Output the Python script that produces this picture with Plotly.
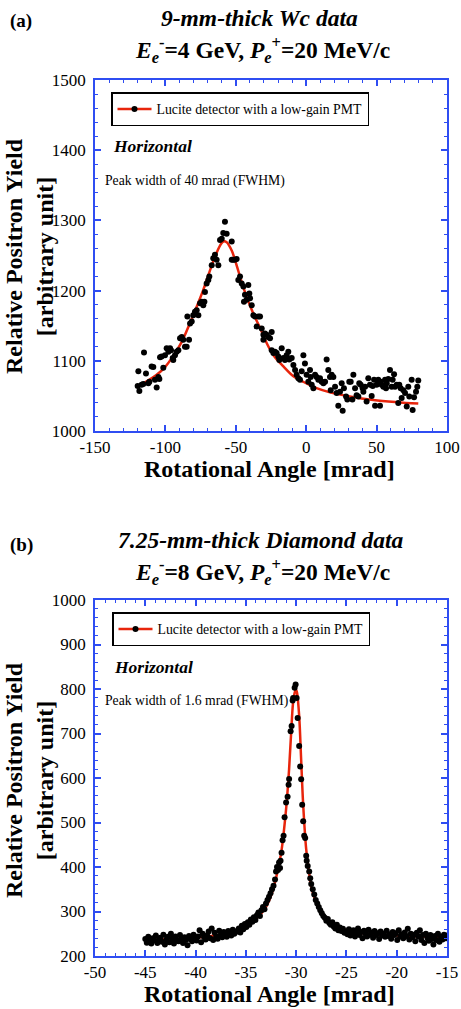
import plotly.graph_objects as go

# ---------------- (a) 9-mm-thick Wc data ----------------
a_x = [-119.7, -118.5, -119.2, -116.9, -115.7, -115.2, -113.8, -112.1, -111.4, -109.8,
       -108.6, -107.4, -106.2, -105.0, -104.3, -103.8, -102.7, -101.5, -100.3, -99.1,
       -97.9, -96.7, -96.0, -94.8, -94.4, -93.2, -92.0, -90.8, -89.6, -88.4,
       -87.3, -86.1, -84.9, -84.4, -83.2, -82.5, -81.3, -80.2, -79.0, -77.8,
       -76.6, -75.4, -74.2, -73.1, -72.3, -71.9, -70.7, -69.5, -68.8, -67.1,
       -66.0, -64.8, -63.6, -62.4, -61.2, -60.0, -58.9, -57.7, -56.5, -52.9,
       -52.9, -51.8, -50.6, -49.4, -48.2, -47.0, -45.8, -44.6, -43.5, -44.2,
       -42.3, -41.1, -40.4, -39.9, -38.7, -37.5, -36.4, -35.2, -34.0, -32.8,
       -31.6, -30.4, -30.4, -29.3, -28.1, -26.9, -25.7, -24.5, -24.5, -23.3,
       -22.2, -21.0, -19.8, -19.1, -17.4, -16.2, -15.1, -13.9, -12.7, -12.0,
       -10.3, -9.1, -7.9, -6.8, -5.6, -4.4, -3.2, -2.0, -0.9, 0.3,
       1.5, 2.7, 3.2, 3.9, 5.1, 6.3, 7.4, 8.6, 9.8, 11.0,
       12.2, 13.4, 14.5, 15.7, 16.9, 17.4, 18.1, 19.3, 20.5, 21.6,
       22.8, 24.0, 25.2, 25.9, 26.8, 28.3, 29.2, 30.6, 31.6, 32.8,
       33.5, 34.7, 35.8, 37.0, 37.7, 38.7, 40.1, 40.6, 41.8, 42.9,
       44.1, 45.3, 46.5, 47.2, 48.2, 48.9, 50.0, 51.2, 52.4, 52.9,
       53.6, 54.8, 56.0, 56.7, 57.2, 58.3, 59.5, 60.7, 61.4, 62.4,
       63.1, 64.3, 65.4, 66.1, 67.1, 67.8, 69.0, 70.2, 71.4, 72.5,
       73.2, 74.9, 75.6, 76.6, 78.0, 78.9, 79.6]
a_y = [1064, 1057, 1085, 1066, 1067, 1112, 1082, 1068, 1070, 1092,
       1091, 1073, 1062, 1077, 1074, 1105, 1106, 1090, 1108, 1118,
       1113, 1118, 1115, 1104, 1101, 1108, 1113, 1115, 1132, 1134,
       1130, 1120, 1120, 1163, 1130, 1153, 1156, 1165, 1170, 1172,
       1165, 1182, 1184, 1179, 1184, 1198, 1210, 1215, 1220, 1236,
       1246, 1251, 1244, 1236, 1272, 1274, 1282, 1298, 1281, 1270,
       1244, 1244, 1244, 1245, 1215, 1220, 1210, 1206, 1194, 1184,
       1187, 1208, 1196, 1189, 1179, 1165, 1163, 1149, 1163, 1163,
       1146, 1137, 1130, 1139, 1137, 1134, 1132, 1141, 1115, 1111,
       1113, 1111, 1106, 1101, 1118, 1104, 1101, 1108, 1113, 1102,
       1104, 1094, 1087, 1080, 1075, 1073, 1085, 1108, 1096, 1080,
       1070, 1087, 1077, 1066, 1061, 1080, 1077, 1073, 1075, 1070,
       1068, 1070, 1102, 1087, 1077, 1058, 1080, 1077, 1063, 1054,
       1036, 1056, 1068, 1029, 1061, 1049, 1045, 1070, 1070, 1045,
       1080, 1061, 1051, 1049, 1068, 1066, 1061, 1056, 1063, 1042,
       1075, 1066, 1050, 1064, 1073, 1036, 1066, 1073, 1036, 1070,
       1066, 1063, 1073, 1061, 1068, 1074, 1087, 1063, 1073, 1081,
       1063, 1066, 1040, 1066, 1061, 1047, 1058, 1054, 1035, 1063,
       1049, 1073, 1030, 1048, 1056, 1063, 1072]
a_fit_x = [-119.7, -106.2, -100.3, -94.4, -88.4, -82.5, -77.8, -73.1, -69.5, -64.8,
           -61.2, -58.9, -56.5, -52.9, -49.4, -45.8, -42.3, -37.5, -32.8, -28.0,
           -23.3, -16.2, -9.1, -2.0, 7.4, 16.9, 31.1, 47.7, 64.3, 79.6]
a_fit_y = [1063, 1080, 1091, 1107, 1127, 1154, 1177, 1201, 1222, 1248,
           1264, 1270, 1269, 1257, 1236, 1212, 1191, 1167, 1147, 1125,
           1108, 1092, 1078, 1070, 1061, 1055, 1049, 1044, 1041, 1039]
a_xticks = [-150, -100, -50, 0, 50, 100]
a_xtick_text = ["-150", "-100", "-50", "0", "50", "100"]
a_yticks = [1000, 1100, 1200, 1300, 1400, 1500]

# ---------------- (b) 7.25-mm-thick Diamond data ----------------
b_x = [-45.0, -44.85, -44.7, -44.55, -44.4, -44.25, -44.1, -43.95, -43.8, -43.65,
       -43.5, -43.35, -43.2, -43.05, -42.9, -42.75, -42.6, -42.45, -42.3, -42.15,
       -42.0, -41.85, -41.7, -41.55, -41.4, -41.25, -41.1, -40.95, -40.8, -40.65,
       -40.5, -40.35, -40.2, -40.05, -39.9, -39.75, -39.6, -39.45, -39.3, -39.15,
       -39.0, -38.85, -38.7, -38.55, -38.4, -38.25, -38.1, -37.95, -37.8, -37.65,
       -37.5, -37.35, -37.2, -37.05, -36.9, -36.75, -36.6, -36.45, -36.3, -36.15,
       -36.0, -35.85, -35.7, -35.55, -35.4, -35.25, -35.1, -34.95, -34.8, -34.65,
       -34.5, -34.35, -34.2, -34.05, -33.9, -33.75, -33.6, -33.45, -33.3, -33.15,
       -33.0, -32.85, -32.7, -32.55, -32.4, -32.25, -32.1, -32.0, -31.9, -31.8,
       -31.7, -31.6, -31.55, -31.45, -31.35, -31.25, -31.15, -31.0, -30.85, -30.75,
       -30.7, -30.55, -30.45, -30.35, -30.3, -30.15, -30.05, -29.95, -29.85, -29.7,
       -29.6, -29.5, -29.4, -29.3, -29.2, -29.1, -29.0, -28.95, -28.85, -28.7,
       -28.6, -28.5, -28.35, -28.2, -28.05, -27.9, -27.75, -27.6, -27.45, -27.3,
       -27.15, -27.0, -26.85, -26.7, -26.55, -26.4, -26.25, -26.1, -25.95, -25.8,
       -25.65, -25.5, -25.35, -25.2, -25.05, -24.9, -24.75, -24.6, -24.45, -24.3,
       -24.15, -24.0, -23.85, -23.7, -23.55, -23.4, -23.25, -23.1, -22.95, -22.8,
       -22.65, -22.5, -22.35, -22.2, -22.05, -21.9, -21.75, -21.6, -21.45, -21.3,
       -21.15, -21.0, -20.85, -20.7, -20.55, -20.4, -20.25, -20.1, -19.95, -19.8,
       -19.65, -19.5, -19.35, -19.2, -19.05, -18.9, -18.75, -18.6, -18.45, -18.3,
       -18.15, -18.0, -17.85, -17.7, -17.55, -17.4, -17.25, -17.1, -16.95, -16.8,
       -16.65, -16.5, -16.35, -16.2, -16.05, -15.9, -15.75, -15.6, -15.45, -15.3,
       -15.15, -15.0]
b_y = [238, 230, 243, 233, 228, 240, 235, 246, 229, 236,
       241, 232, 248, 226, 237, 243, 231, 250, 239, 228,
       244, 236, 233, 247, 240, 229, 242, 236, 224, 245,
       238, 233, 248, 241, 235, 244, 258, 231, 250, 242,
       237, 246, 255, 240, 262, 236, 252, 244, 239, 257,
       247, 242, 254, 249, 243, 256, 251, 246, 259, 250,
       254, 256, 262, 253, 268, 260, 272, 265, 276, 270,
       282, 277, 287, 281, 292, 298, 290, 303, 310, 305,
       318, 326, 333, 341, 350, 358, 372, 390, 400, 393,
       410, 398, 414, 432, 460, 470, 512, 545, 558, 585,
       598, 705, 717, 774, 780, 803, 810, 780, 735, 672,
       626, 597, 540, 503, 470, 465, 425, 414, 402, 390,
       375, 362, 350, 338, 326, 318, 310, 303, 296, 290,
       286, 279, 283, 274, 270, 276, 266, 262, 270, 258,
       264, 256, 261, 252, 255, 249, 260, 246, 253, 258,
       244, 251, 262, 247, 254, 240, 257, 250, 244, 259,
       248, 253, 241, 256, 247, 251, 238, 255, 246, 250,
       243, 257, 245, 249, 239, 254, 247, 251, 236, 258,
       244, 249, 240, 253, 245, 261, 237, 250, 242, 248,
       233, 252, 244, 258, 236, 247, 229, 250, 241, 234,
       247, 238, 226, 245, 236, 250, 232, 243, 237, 248,
       240, 246]
b_fit_x = [-45.0, -40.0, -37.0, -35.0, -34.0, -33.0, -32.5, -32.0, -31.5, -31.0,
           -30.7, -30.5, -30.3, -30.1, -30.0, -29.9, -29.7, -29.5, -29.3, -29.0,
           -28.7, -28.5, -28.0, -27.5, -27.0, -26.0, -25.0, -23.0, -20.0, -17.0, -15.0]
b_fit_y = [236, 241, 250, 265, 283, 310, 335, 375, 430, 530,
           620, 700, 770, 795, 798, 790, 740, 640, 540, 440,
           385, 355, 320, 300, 285, 268, 258, 250, 246, 243, 242]
b_xticks = [-50, -45, -40, -35, -30, -25, -20, -15]
b_xtick_text = ["-50", "-45", "-40", "-35", "-30", "-25", "-20", "-15"]
b_yticks = [200, 300, 400, 500, 600, 700, 800, 900, 1000]

legend_label = "Lucite detector with a low-gain PMT"

FONT = "Liberation Serif"
BLUE = "#2f4df2"
RED = "#e8250c"
W, H = 461, 1009


def px(x):
    return x / W


def py(y):
    return 1 - y / H


fig = go.Figure()
fig.add_trace(go.Scatter(x=a_fit_x, y=a_fit_y, mode="lines", line=dict(color=RED, width=2.5, shape="spline"),
                         xaxis="x", yaxis="y", showlegend=False, hoverinfo="skip"))
fig.add_trace(go.Scatter(x=a_x, y=a_y, mode="markers", marker=dict(color="black", size=6),
                         xaxis="x", yaxis="y", showlegend=False))
fig.add_trace(go.Scatter(x=[None], y=[None], mode="lines+markers", name=legend_label,
                         line=dict(color=RED, width=2.5), marker=dict(color="black", size=6),
                         xaxis="x", yaxis="y", legend="legend"))
fig.add_trace(go.Scatter(x=b_fit_x, y=b_fit_y, mode="lines", line=dict(color=RED, width=2.5, shape="spline"),
                         xaxis="x2", yaxis="y2", showlegend=False, hoverinfo="skip"))
fig.add_trace(go.Scatter(x=b_x, y=b_y, mode="markers", marker=dict(color="black", size=6),
                         xaxis="x2", yaxis="y2", showlegend=False))
fig.add_trace(go.Scatter(x=[None], y=[None], mode="lines+markers", name=legend_label,
                         line=dict(color=RED, width=2.5), marker=dict(color="black", size=6),
                         xaxis="x2", yaxis="y2", legend="legend2"))


def axis(rng, tickvals, ticktext, minor_dtick, domain, anchor, standoff=0):
    return dict(range=rng, tickmode="array", tickvals=tickvals, ticktext=ticktext,
                domain=domain, anchor=anchor, automargin=False,
                showline=True, linecolor=BLUE, linewidth=1.5, mirror="allticks",
                ticks="inside", ticklen=6, tickwidth=1.5, tickcolor=BLUE,
                ticklabelstandoff=standoff,
                minor=dict(ticks="inside", ticklen=3.5, tickwidth=1.2, tickcolor=BLUE,
                           dtick=minor_dtick, tick0=rng[0]),
                showgrid=False, zeroline=False,
                tickfont=dict(family=FONT, size=17, color="black"))


LEG_FONT = 13.8
xdom = [px(95), px(447)]
fig.update_layout(
    width=W, height=H, margin=dict(l=0, r=0, t=0, b=0, pad=0),
    paper_bgcolor="white", plot_bgcolor="white",
    font=dict(family=FONT, color="black"),
    xaxis=axis([-150, 100], a_xticks, a_xtick_text, 10, xdom, "y"),
    yaxis=axis([1000, 1500], a_yticks, [str(v) for v in a_yticks], 20, [py(431), py(80)], "x", 4),
    xaxis2=axis([-50, -15], b_xticks, b_xtick_text, 1, xdom, "y2"),
    yaxis2=axis([200, 1000], b_yticks, [str(v) for v in b_yticks], 20, [py(956), py(600)], "x2", 4),
    legend=dict(x=px(111), y=py(92), xanchor="left", yanchor="top", bgcolor="white",
                bordercolor="black", borderwidth=1.5, font=dict(family=FONT, size=LEG_FONT),
                itemwidth=34, tracegroupgap=0),
    legend2=dict(x=px(112), y=py(612), xanchor="left", yanchor="top", bgcolor="white",
                 bordercolor="black", borderwidth=1.5, font=dict(family=FONT, size=LEG_FONT),
                 itemwidth=34, tracegroupgap=0),
)

shapes = []
for (x0, y0, x1, y1) in [(114, 95, 369, 121), (115, 615, 370, 641)]:
    shapes.append(dict(type="rect", xref="paper", yref="paper", x0=px(x0), x1=px(x1),
                       y0=py(y1), y1=py(y0), fillcolor="black", line=dict(width=0), layer="above"))
fig.update_layout(shapes=shapes)

ann = []


def text(t, x, y, size, xanchor="center", angle=0):
    ann.append(dict(text=t, x=px(x), y=py(y), xref="paper", yref="paper", showarrow=False,
                    xanchor=xanchor, yanchor="middle", textangle=angle,
                    font=dict(family=FONT, size=size, color="black")))


title2_a = "<b><i>E</i><sub><i>e</i></sub><sup>-</sup>=4 GeV, <i>P</i><sub><i>e</i></sub><sup>+</sup>=20 MeV/c</b>"
title2_b = "<b><i>E</i><sub><i>e</i></sub><sup>-</sup>=8 GeV, <i>P</i><sub><i>e</i></sub><sup>+</sup>=20 MeV/c</b>"
ytitle = "<b>Relative Positron Yield<br>[arbitrary unit]</b>"
xtitle = "<b>Rotational Angle [mrad]</b>"

text("<b>(a)</b>", 8, 21, 19, "left")
text("<b><i>9-mm-thick Wc data</i></b>", 259, 18, 23.5)
text(title2_a, 262, 50, 23.5)
text("<b><i>Horizontal</i></b>", 111, 146, 17.5, "left")
text("Peak width of 40 mrad (FWHM)", 103, 181, 13.7, "left")
text(ytitle, 29, 256, 24, angle=-90)
text(xtitle, 269, 469, 24)

text("<b>(b)</b>", 8, 545, 19, "left")
text("<b><i>7.25-mm-thick Diamond data</i></b>", 261, 540, 23.5)
text(title2_b, 262, 572, 23.5)
text("<b><i>Horizontal</i></b>", 112, 667, 17.5, "left")
text("Peak width of 1.6 mrad (FWHM)", 103, 701, 13.7, "left")
text(ytitle, 29, 780, 24, angle=-90)
text(xtitle, 269, 994, 24)

fig.update_layout(annotations=ann)
fig.write_html("out.html", config={"displayModeBar": False},
               post_script="document.body.style.margin='0';document.body.style.padding='0';")
